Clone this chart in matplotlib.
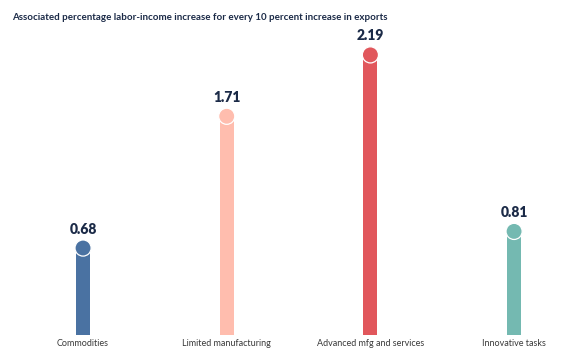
import matplotlib.pyplot as plt

categories = ["Commodities", "Limited manufacturing", "Advanced mfg and services", "Innovative tasks"]
values = [0.68, 1.71, 2.19, 0.81]
colors = ["#4a72a2", "#ffbdae", "#e1575c", "#74b9b1"]
title = "Associated percentage labor-income increase for every 10 percent increase in exports"

fig = plt.figure(figsize=(5.75, 3.61), dpi=100)
ax = fig.add_axes([0, 0.072, 1, 0.928])
x = list(range(len(categories)))

ax.bar(x, values, width=0.098, color=colors, zorder=2)
ax.scatter(x, values, s=135, c=colors, edgecolors="white", linewidths=0.9, zorder=3)
for xi, v, cat in zip(x, values, categories):
    ax.annotate(f"{v:.2f}", (xi, v), xytext=(0, 9), textcoords="offset points",
                ha="center", va="bottom", fontsize=10, fontweight="heavy",
                color="#1b2a47", family="Lato")
    ax.text(xi, -0.03, cat, ha="center", va="top",
            fontsize=6.5, color="#3a3a3a", family="Lato")

ax.set_xlim(-0.578, 3.424)
ax.set_ylim(0, 2.619)
ax.axis("off")

fig.text(12 / 575, 1 - 17 / 361, title, ha="left", va="center", fontsize=7.05,
         fontweight="bold", color="#1b2a47", family="Lato")

fig.savefig("out.png", dpi=100)
